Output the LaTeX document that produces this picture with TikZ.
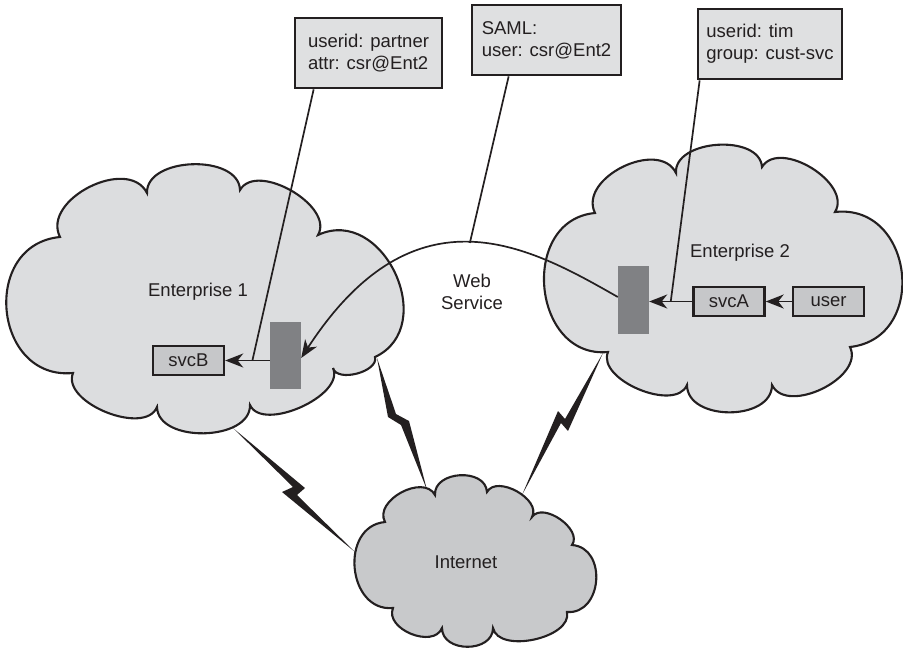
\documentclass[tikz,border=0pt]{standalone}
\usepackage{fontspec}
\setmainfont{Liberation Sans}
\usetikzlibrary{arrows.meta}

\definecolor{ink}{HTML}{231F20}
\definecolor{entfill}{HTML}{DCDDDF}
\definecolor{netfill}{HTML}{C8C9CB}
\definecolor{notefill}{HTML}{DFE0E1}
\definecolor{svcfill}{HTML}{C6C7C9}
\definecolor{gwfill}{HTML}{808184}

\begin{document}
\begin{tikzpicture}[x=1pt,y=-1pt,
  lobe/.style={bend left=90, looseness=#1},
  entcloud/.style={fill=entfill, draw=ink, line width=2.1pt},
  netcloud/.style={fill=netfill, draw=ink, line width=2.1pt},
  txt/.style={font=\fontsize{18.5}{21.7}\selectfont, text=ink},
  note/.style={txt, draw=ink, fill=notefill, line width=2.7pt, align=left,
               minimum height=70pt, inner sep=0pt},
  svc/.style={txt, draw=ink, fill=svcfill, line width=2.4pt,
              minimum width=71pt, minimum height=29pt, inner sep=0pt},
  gateway/.style={fill=gwfill, minimum width=31pt, minimum height=67pt, inner sep=0pt},
  caption/.style={txt, align=center},
  link/.style={draw=ink, line width=1.7pt},
  arr/.style={link, -{Stealth[length=18pt, width=14pt, inset=5.5pt]}},
  bolt/.style={fill=ink},
]
\useasboundingbox (0,0) rectangle (903,648);

% lightning links to the Internet (drawn first, clouds cover their ends)
\path[bolt] (233,428) -- (305,488) -- (297,495) -- (355,552) -- (282,492) -- (293,487) -- cycle;
\path[bolt] (377,358) -- (396,414) -- (409,421) -- (427,490) -- (401,425) -- (388,417) -- cycle;
\path[bolt] (603,353) -- (568,431) -- (561,423) -- (522,495) -- (558,411) -- (565,419) -- cycle;

% Enterprise 1 cloud
\path[entcloud] (60,237) to[lobe=1.1] (147,193) to[lobe=1.0] (240,190)
  to[lobe=0.95] (318,235) to[lobe=1.36] (375,357) to[lobe=0.9] (333,368)
  to[lobe=0.85] (250,405) to[lobe=1.0] (157,407) to[lobe=0.9] (73,373)
  to[lobe=1.5] (60,237) -- cycle;

% Enterprise 2 cloud
\path[entcloud] (595,213) to[lobe=1.1] (676,173) to[lobe=1.0] (762,167)
  to[lobe=1.0] (835,212) to[lobe=1.5] (850,347) to[lobe=1.0] (772,385)
  to[lobe=1.1] (687,385) to[lobe=0.9] (608,352) to[lobe=1.4] (595,213) -- cycle;

% Internet cloud
\path[netcloud] (385,522) to[lobe=1.1] (435,495) to[lobe=1.2] (487,492)
  to[lobe=1.0] (532,517) to[lobe=1.0] (572,545) to[lobe=1.36] (567,612)
  to[lobe=0.9] (493,628) to[lobe=1.26] (442,628) to[lobe=1.1] (393,608)
  to[lobe=1.36] (385,522) -- cycle;

% cloud captions
\node[caption] (ent1) at (198,292) {Enterprise 1};
\node[caption] (ent2) at (740,253) {Enterprise 2};
\node[caption] (inet) at (466,562) {Internet};
\node[caption] (ws label) at (472,292) {Web\\Service};

% gateways
\node[gateway] (gw1) at (285.5,355.5) {};
\node[gateway, minimum height=68pt] (gw2) at (633.5,300) {};

% services
\node[svc] (svcB) at (188.5,360.5) {svcB};
\node[svc] (svcA) at (729,301.5) {svcA};
\node[svc] (user) at (828.5,301.5) {user};

% identity notes
\node[note, minimum width=147pt] (box1) at (368.5,53) {userid: partner\\attr: csr@Ent2};
\node[note, minimum width=149pt] (box2) at (546.5,40) {SAML:\\user: csr@Ent2};
\node[note, minimum width=144pt] (box3) at (770,44) {userid: tim\\group: cust-svc};

% web service call between the gateways
\draw[arr] ([yshift=3pt]gw2.west) .. controls (531,247.5) and (415.6,182) ..
  ([yshift=-2.5pt]gw1.east) coordinate[pos=0.5] (ws);

% local calls
\draw[arr] (user.west) -- (svcA.east);
\draw[arr] (svcA.west) -- (svcA.west -| gw2.east) coordinate[pos=0.5] (j3);
\draw[arr] (gw1.west |- svcB.east) -- (svcB.east) coordinate[pos=0.39] (j1);

% notes attached to the calls
\draw[link] ([xshift=20pt]box1.south west) -- (j1);
\draw[link] ([xshift=38pt]box2.south west) -- (ws);
\draw[link] ([xshift=3pt]box3.south west) -- (j3);
\end{tikzpicture}
\end{document}
